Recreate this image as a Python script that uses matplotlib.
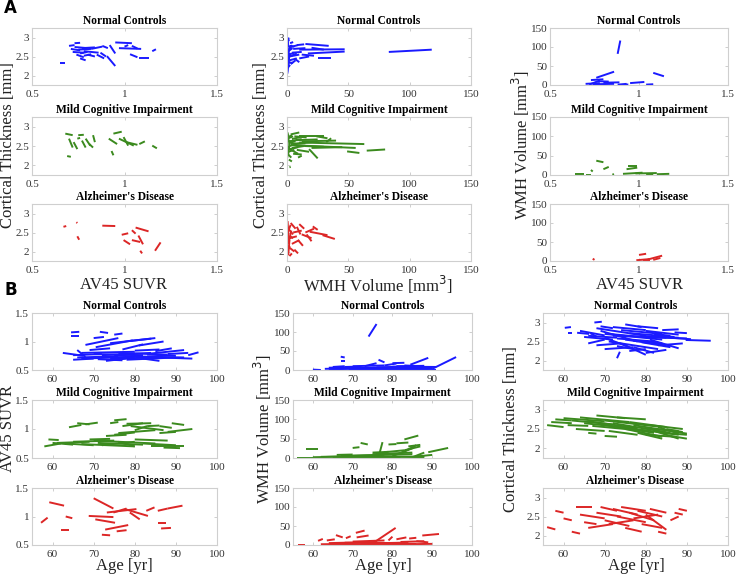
import matplotlib
matplotlib.use("Agg")
import matplotlib.pyplot as plt

# ---------------- data: each segment = (x_start, x_end, y_start, y_end) ----------------
groups = ["Normal Controls", "Mild Cognitive Impairment", "Alzheimer's Disease"]
colors = ["#1a1aff", "#3b8a1e", "#dc2626"]

# Panel A, column 1: cortical thickness vs AV45 SUVR
A_ct_suvr_nc = [
    (0.65, 0.68, 2.32, 2.32), (0.70, 0.73, 2.78, 2.80), (0.71, 0.76, 2.70, 2.66), (0.72, 0.78, 2.62, 2.60),
    (0.73, 0.80, 2.75, 2.72), (0.74, 0.78, 2.55, 2.48), (0.75, 0.82, 2.68, 2.70), (0.76, 0.80, 2.58, 2.62),
    (0.76, 0.79, 2.45, 2.40), (0.77, 0.84, 2.72, 2.74), (0.78, 0.86, 2.64, 2.60), (0.80, 0.84, 2.55, 2.50),
    (0.82, 0.88, 2.70, 2.76), (0.85, 0.89, 2.55, 2.45), (0.87, 0.90, 2.60, 2.50), (0.88, 0.91, 2.78, 2.72),
    (0.92, 0.95, 2.80, 2.58), (0.905, 0.95, 2.51, 2.25), (0.95, 1.04, 2.87, 2.85), (0.97, 1.09, 2.72, 2.70),
    (1.04, 1.07, 2.78, 2.71), (1.03, 1.07, 2.56, 2.48), (1.08, 1.13, 2.46, 2.46), (1.15, 1.17, 2.64, 2.69),
    (0.73, 0.76, 2.85, 2.86), (0.78, 0.82, 2.52, 2.56), (1.00, 1.02, 2.76, 2.80),
]
A_ct_suvr_mci = [
    (0.69, 0.71, 2.24, 2.22), (0.68, 0.72, 2.82, 2.78), (0.70, 0.72, 2.69, 2.46), (0.725, 0.745, 2.60, 2.42),
    (0.75, 0.78, 2.78, 2.79), (0.77, 0.79, 2.64, 2.46), (0.79, 0.815, 2.69, 2.51), (0.81, 0.83, 2.55, 2.46),
    (0.83, 0.84, 2.78, 2.60), (0.915, 0.96, 2.69, 2.55), (0.94, 0.985, 2.82, 2.87), (0.93, 0.94, 2.37, 2.26),
    (0.97, 1.05, 2.69, 2.51), (0.995, 1.02, 2.73, 2.51), (1.01, 1.07, 2.60, 2.53), (1.08, 1.11, 2.55, 2.62),
    (1.15, 1.175, 2.51, 2.44), (0.745, 0.76, 2.69, 2.71),
]
A_ct_suvr_ad = [
    (0.67, 0.685, 2.65, 2.67), (0.74, 0.745, 2.77, 2.75), (0.745, 0.755, 2.40, 2.31), (0.88, 0.95, 2.68, 2.67),
    (0.985, 1.02, 2.44, 2.48), (0.995, 1.03, 2.30, 2.19), (1.04, 1.06, 2.56, 2.47), (1.06, 1.13, 2.63, 2.53),
    (1.04, 1.085, 2.30, 2.25), (1.075, 1.10, 2.42, 2.19), (1.085, 1.095, 2.02, 1.95), (1.165, 1.195, 2.02, 2.24),
]

# Panel A, column 2: cortical thickness vs WMH volume
A_ct_wmh_nc = [
    (0.5, 1.0, 2.95, 2.75), (0.3, 1.2, 2.05, 2.35), (0.8, 1.5, 2.20, 2.50), (1, 3, 2.80, 2.70),
    (1.5, 6, 2.55, 2.60), (2, 8, 2.40, 2.45), (0.5, 4, 2.65, 2.80), (2, 10, 2.50, 2.55),
    (3, 9, 2.75, 2.80), (1, 5, 2.35, 2.33), (4, 12, 2.60, 2.62), (5, 15, 2.70, 2.72),
    (6, 10, 2.45, 2.35), (8, 14, 2.80, 2.82), (10, 47, 2.68, 2.69), (15, 34, 2.83, 2.78),
    (17, 47, 2.58, 2.63), (20, 30, 2.73, 2.68), (25, 36, 2.47, 2.47), (10, 18, 2.45, 2.50),
    (3, 7, 2.30, 2.40), (83, 118, 2.62, 2.68), (1, 1.5, 3.00, 2.90), (0.2, 0.6, 2.10, 2.60),
    (2.5, 5, 2.85, 2.88), (12, 22, 2.55, 2.52), (0.5, 2, 2.50, 2.70),
    (0.2, 0.8, 2.60, 2.90), (1.2, 2.0, 2.30, 2.60), (0.4, 3.0, 2.45, 2.55), (1.5, 4.5, 2.65, 2.72),
    (2.2, 6.0, 2.78, 2.76), (0.6, 2.5, 2.20, 2.28), (3.5, 8.0, 2.52, 2.58), (0.3, 1.0, 2.75, 2.85),
]
A_ct_wmh_mci = [
    (0.5, 1.5, 2.85, 2.60), (0.3, 1, 2.20, 2.50), (1, 5, 2.70, 2.75), (2, 8, 2.50, 2.55),
    (1, 6, 2.35, 2.40), (3, 10, 2.80, 2.85), (2, 12, 2.62, 2.68), (4, 14, 2.45, 2.50),
    (5, 12, 2.30, 2.28), (6, 16, 2.75, 2.72), (3, 20, 2.55, 2.60), (8, 18, 2.40, 2.35),
    (10, 30, 2.77, 2.77), (10, 63, 2.59, 2.55), (5, 56, 2.52, 2.45), (20, 45, 2.45, 2.47),
    (24, 33, 2.75, 2.70), (32, 36, 2.60, 2.70), (18, 25, 2.42, 2.18), (49, 59, 2.36, 2.32),
    (65, 80, 2.38, 2.41), (2, 3, 1.95, 1.96), (7, 25, 2.65, 2.67), (1.5, 4, 2.15, 2.10),
    (12, 40, 2.62, 2.64), (0.5, 9, 2.45, 2.30), (14, 30, 2.50, 2.48), (9, 12, 2.20, 2.25),
    (0.2, 1.0, 2.40, 2.80), (0.8, 2.5, 2.25, 2.65), (1.5, 7.0, 2.58, 2.62), (0.4, 4.0, 2.72, 2.78),
    (2.5, 9.0, 2.42, 2.47), (1.0, 3.5, 2.28, 2.20), (4.0, 11.0, 2.68, 2.73), (6.0, 15.0, 2.55, 2.57),
]
A_ct_wmh_ad = [
    (0.5, 1.5, 2.80, 2.20), (1, 2, 1.90, 2.30), (0.5, 3, 2.50, 2.70), (1, 5, 2.60, 2.45),
    (2, 6, 2.10, 2.00), (2, 8, 2.35, 2.40), (3, 7, 2.75, 2.60), (4, 10, 2.20, 2.30),
    (5, 12, 2.50, 2.55), (6, 9, 2.05, 1.95), (8, 11, 2.65, 2.45), (9, 13, 2.30, 2.15),
    (12, 20, 2.45, 2.35), (15, 22, 2.50, 2.60), (18.5, 33, 2.52, 2.43), (21, 25, 2.66, 2.57),
    (29, 39, 2.43, 2.33), (16, 20, 2.45, 2.27), (10, 14, 2.72, 2.60), (2, 4, 1.88, 1.95),
    (0.3, 1.2, 2.35, 2.65), (1.5, 3.5, 2.25, 2.55), (2.5, 5.0, 2.40, 2.35), (0.8, 2.2, 2.05, 2.15),
]

# Panel A, column 3: WMH volume vs AV45 SUVR
A_wmh_suvr_nc = [
    (0.70, 0.78, 3, 5), (0.72, 0.78, 1, 12), (0.74, 0.86, 2, 3), (0.76, 0.86, 19, 35),
    (0.77, 0.83, 10, 9), (0.80, 0.89, 6, 7), (0.88, 0.895, 82, 117), (0.88, 0.93, 1, 3),
    (0.92, 0.94, 2, 1), (0.95, 1.03, 5, 8), (1.04, 1.08, 1, 2), (1.08, 1.14, 32, 23),
    (0.73, 0.80, 13, 15),
]
A_wmh_suvr_mci = [
    (0.64, 0.69, 2, 2), (0.70, 0.73, 1, 1), (0.73, 0.74, 13, 9), (0.76, 0.80, 37, 33),
    (0.80, 0.83, 15, 21), (0.85, 0.86, 1, 2), (0.91, 1.02, 3, 6), (0.93, 0.99, 15, 19),
    (0.94, 0.99, 24, 24), (0.98, 1.10, 4, 5), (1.10, 1.17, 2, 3), (1.04, 1.08, 1, 2),
]
A_wmh_suvr_ad = [
    (0.74, 0.75, 6, 3), (1.00, 1.04, 16, 19), (0.985, 1.06, 2, 5), (1.05, 1.13, 4, 14),
    (1.08, 1.12, 3, 8), (1.02, 1.06, 1, 1),
]

# Panel B, column 1: AV45 SUVR vs age
B_suvr_age_nc = [
    (64.5, 66.5, 1.16, 1.17), (71.5, 73.5, 1.17, 1.15), (64.5, 66.5, 1.09, 1.09), (75, 77, 1.12, 1.14),
    (70, 72.5, 1.06, 1.08), (68, 76, 0.94, 1.06), (70.5, 79.5, 0.90, 1.02), (74, 85, 0.97, 1.06),
    (79, 84, 1.01, 1.05), (81, 87, 0.93, 1.00), (77, 82, 0.86, 0.95), (84, 92, 0.79, 0.85),
    (93, 95.5, 0.76, 0.81), (62.5, 67.5, 0.80, 0.75), (66, 76, 0.72, 0.74), (67, 80, 0.70, 0.73),
    (70, 82, 0.78, 0.76), (74, 86, 0.70, 0.72), (79, 92, 0.74, 0.72), (82, 86, 0.70, 0.66),
    (66, 68, 0.85, 0.73), (67, 80, 0.80, 0.82), (72, 84, 0.76, 0.80), (76, 88, 0.80, 0.77),
    (86, 94, 0.72, 0.70), (65, 70, 0.68, 0.70), (85, 89, 0.83, 0.88), (69, 74, 0.85, 0.88),
    (78, 90, 0.68, 0.72), (88, 93, 0.78, 0.80), (73, 78, 0.66, 0.70), (80, 86, 0.84, 0.86),
    (65, 72, 0.76, 0.78), (71, 77, 0.69, 0.67), (75, 81, 0.75, 0.74), (83, 90, 0.77, 0.75),
]
B_suvr_age_mci = [
    (58, 62, 0.70, 0.75), (59, 61.5, 0.82, 0.81), (60, 65, 0.76, 0.73), (64, 67, 1.03, 1.07),
    (66, 69, 1.10, 1.08), (68, 71, 1.08, 1.11), (63, 70, 0.75, 0.72), (65, 75, 0.78, 0.80),
    (67, 80, 0.74, 0.70), (70, 85, 0.80, 0.75), (72, 80, 0.72, 0.78), (74, 76, 1.10, 1.12),
    (75, 78, 1.15, 1.17), (77, 82, 1.05, 1.10), (78, 84, 1.09, 1.10), (80, 83, 0.98, 1.05),
    (79, 87, 1.05, 0.98), (76, 85, 0.93, 0.98), (73, 78, 0.88, 0.90), (82, 90, 0.75, 0.72),
    (84, 92, 0.70, 0.70), (86, 90, 0.93, 0.95), (88, 94, 0.95, 1.00), (89, 92, 1.10, 1.07),
    (80, 88, 0.82, 0.80), (69, 74, 0.82, 0.83), (61, 69, 0.76, 0.78), (71, 82, 0.76, 0.73),
    (86, 89, 1.05, 1.02), (87, 91, 0.68, 0.67), (76, 80, 0.78, 0.70), (83, 86, 1.05, 1.06),
    (75, 80, 0.90, 0.94),
]
B_suvr_age_ad = [
    (57.2, 58.8, 0.89, 0.98), (59.2, 62.8, 1.25, 1.19), (63.2, 64.8, 1.00, 0.97), (62.0, 64.0, 0.76, 0.76),
    (70.0, 74.8, 1.32, 1.14), (68.8, 74.8, 1.01, 0.99), (70.4, 75.2, 0.95, 0.89), (72.0, 74.0, 0.68, 0.67),
    (72.8, 78.4, 0.77, 0.85), (75.6, 78.0, 0.74, 0.76), (73.2, 80.4, 1.07, 1.13), (74.8, 78.0, 1.07, 1.14),
    (77.6, 83.2, 1.13, 1.01), (78.8, 81.2, 1.07, 0.95), (82.8, 84.8, 1.10, 1.16), (85.6, 88.0, 1.10, 1.14),
    (88.0, 91.6, 1.14, 1.19), (85.6, 87.6, 0.89, 0.89), (86.4, 88.8, 0.79, 0.80),
]

# Panel B, column 2: WMH volume vs age
B_wmh_age_nc = [
    (60, 62, 1, 0), (67, 68, 35, 33), (67, 68, 23, 23), (74, 76, 88, 121),
    (76.5, 78, 27, 20), (73, 76, 10, 18), (78, 81, 12, 17), (80, 83, 18, 19),
    (84.5, 89, 14, 32), (90, 96, 3, 34), (63, 70, 3, 5), (64, 75, 2, 4),
    (66, 80, 5, 6), (68, 72, 8, 9), (70, 85, 3, 2), (72, 88, 4, 1),
    (75, 90, 6, 7), (78, 86, 2, 1), (80, 91, 9, 8), (82, 89, 4, 2),
    (86, 91, 1, 1), (65, 68, 8, 10), (70, 78, 10, 12), (76, 84, 7, 9),
    (83, 87, 12, 10), (69, 73, 1, 4), (85, 90, 6, 5),
    (64, 70, 6, 7), (71, 80, 1, 2), (77, 83, 5, 4), (81, 88, 10, 11),
]
B_wmh_age_mci = [
    (56, 62, 1, 1), (58.2, 61.3, 22, 22), (60, 70, 2, 4), (62, 75, 3, 6),
    (65, 80, 1, 3), (67, 78, 5, 8), (70, 71.7, 26, 28), (72, 73.8, 39, 35),
    (70, 85, 6, 10), (73, 88, 2, 4), (75, 85, 10, 14), (76.7, 77.5, 10, 41),
    (78, 83, 15, 20), (79, 81, 35, 36), (80, 85, 5, 25), (82, 86, 12, 33),
    (83, 86.5, 48, 58), (83, 87, 20, 30), (81, 84, 38, 40), (85, 88, 2, 14),
    (86, 90, 4, 8), (89, 94, 15, 26), (68, 82, 0, 1), (66, 70, 8, 9),
    (75, 79, 14, 16), (78, 88, 4, 2), (84, 87, 30, 34),
]
B_wmh_age_ad = [
    (56.3, 58, 1, 1), (61.3, 62.5, 11, 16), (63.5, 65.5, 12, 15), (65.8, 67.5, 26, 20),
    (68.3, 69.5, 18, 23), (70.8, 73, 32, 38), (71, 74, 20, 25), (75.4, 80.8, 7, 45),
    (79, 80, 12, 22), (81, 83.5, 15, 20), (84.2, 86, 17, 19), (87.5, 91.7, 25, 29),
    (86, 89, 10, 7), (62, 70, 2, 3), (64, 76, 5, 8), (66, 80, 3, 1),
    (68, 84, 6, 5), (70, 78, 9, 12), (72, 86, 2, 3), (74, 82, 4, 6),
    (77, 90, 1, 3), (82, 88, 8, 10),
]

# Panel B, column 3: cortical thickness vs age
B_ct_age_nc = [
    (60.3, 61.8, 2.86, 2.88), (61, 62, 2.73, 2.73), (67.5, 69.3, 3.00, 3.02), (63.3, 66.2, 2.73, 2.70),
    (64, 70, 2.78, 2.66), (65, 72, 2.62, 2.55), (66, 70, 2.45, 2.55), (66.5, 68, 2.72, 2.63),
    (68, 80, 2.85, 2.65), (69, 78, 2.78, 2.50), (70, 84, 2.70, 2.55), (70, 76, 2.60, 2.35),
    (71, 83, 2.50, 2.30), (72, 80, 2.88, 2.80), (73, 73.7, 2.06, 2.23), (72, 88, 2.65, 2.60),
    (74, 80, 2.45, 2.15), (74, 84, 2.80, 2.70), (75, 85, 2.55, 2.40), (76, 87, 2.72, 2.62),
    (77, 82, 2.35, 2.20), (78, 90, 2.62, 2.58), (78, 83, 2.90, 2.85), (79, 86, 2.48, 2.35),
    (80, 88, 2.78, 2.68), (81, 88, 2.55, 2.32), (82, 86, 2.70, 2.65), (83, 89, 2.40, 2.45),
    (84, 88, 2.80, 2.82), (86, 91, 2.60, 2.56), (89.7, 95.8, 2.54, 2.52), (87, 90, 2.74, 2.72),
    (68, 74, 2.40, 2.45), (70, 77, 2.30, 2.35), (73, 82, 2.58, 2.50), (76, 80, 2.25, 2.30),
    (80, 85, 2.20, 2.28), (69, 72, 2.90, 2.85), (66, 73, 2.65, 2.60), (75, 79, 2.95, 2.88),
    (71, 79, 2.70, 2.62), (77, 84, 2.52, 2.45), (73, 78, 2.38, 2.28), (79, 85, 2.65, 2.60),
]
B_ct_age_mci = [
    (56, 60, 2.60, 2.55), (57, 62, 2.68, 2.65), (58, 62, 2.75, 2.72), (60, 70, 2.78, 2.70),
    (61, 66, 2.60, 2.58), (62, 72, 2.72, 2.62), (63, 70, 2.50, 2.45), (64, 76, 2.80, 2.68),
    (65, 74, 2.65, 2.55), (66, 78, 2.70, 2.52), (67, 80, 2.58, 2.45), (68, 75, 2.85, 2.78),
    (69, 82, 2.62, 2.40), (70, 84, 2.72, 2.55), (71, 78, 2.45, 2.35), (72, 86, 2.65, 2.40),
    (73, 80, 2.80, 2.75), (74, 88, 2.55, 2.35), (75, 84, 2.50, 2.30), (76, 85, 2.68, 2.55),
    (77, 90, 2.60, 2.38), (78, 84, 2.40, 2.25), (79, 88, 2.52, 2.45), (80, 87, 2.35, 2.30),
    (81, 89, 2.60, 2.50), (82, 88, 2.45, 2.25), (83, 88, 2.55, 2.38), (84, 90, 2.40, 2.35),
    (85, 89, 2.50, 2.42), (86, 90, 2.32, 2.25), (70, 73, 2.32, 2.30), (66, 68, 2.40, 2.38),
]
B_ct_age_ad = [
    (56, 58, 2.22, 2.16), (58, 60, 2.65, 2.60), (62, 64, 2.10, 2.05), (63, 67, 2.75, 2.75),
    (64, 70, 2.55, 2.45), (65, 68, 2.35, 2.30), (66, 72, 2.20, 2.30), (68, 74, 2.60, 2.50),
    (69, 73, 2.75, 2.65), (70, 76, 2.40, 2.25), (71, 77, 2.30, 2.40), (72, 78, 2.70, 2.55),
    (73, 80, 2.50, 2.35), (74, 80, 2.75, 2.65), (75, 79, 2.20, 2.10), (76, 82, 2.60, 2.40),
    (77, 83, 2.45, 2.55), (78, 84, 2.65, 2.50), (79, 84, 2.30, 2.20), (80, 85, 2.55, 2.15),
    (81, 85, 2.70, 2.60), (83, 85, 2.10, 2.05), (86, 88, 2.40, 2.50), (87, 89, 2.60, 2.55),
    (88, 90, 2.70, 2.65), (60, 62, 2.45, 2.40),
]

suvr_ticks = [0.5, 1, 1.5]
ct_ticks = [2, 2.5, 3]
wmh_ticks = [0, 50, 100, 150]
age_ticks = [60, 70, 80, 90, 100]

# ---------------- layout ----------------
W, H = 738, 576
fig = plt.figure(figsize=(W / 100, H / 100), dpi=100)
SERIF = "Liberation Serif"

def add_ax(l, t, r, b):
    return fig.add_axes([l / W, 1 - b / H, (r - l) / W, (b - t) / H])

colsA = [(32, 217), (287, 471), (550, 728)]
colsB = [(32, 217), (293, 472), (543, 728)]
rowsA = [(28, 85), (117, 175), (204, 261)]
rowsB = [(313, 370), (400, 458), (488, 545)]

panelsA = [
    ([A_ct_suvr_nc, A_ct_suvr_mci, A_ct_suvr_ad], (0.5, 1.5), suvr_ticks, (1.75, 3.25), ct_ticks),
    ([A_ct_wmh_nc, A_ct_wmh_mci, A_ct_wmh_ad], (0, 150), wmh_ticks, (1.75, 3.25), ct_ticks),
    ([A_wmh_suvr_nc, A_wmh_suvr_mci, A_wmh_suvr_ad], (0.5, 1.5), suvr_ticks, (0, 150), wmh_ticks),
]
panelsB = [
    ([B_suvr_age_nc, B_suvr_age_mci, B_suvr_age_ad], (55, 100), age_ticks, (0.5, 1.5), suvr_ticks),
    ([B_wmh_age_nc, B_wmh_age_mci, B_wmh_age_ad], (55, 100), age_ticks, (0, 150), wmh_ticks),
    ([B_ct_age_nc, B_ct_age_mci, B_ct_age_ad], (55, 100), age_ticks, (1.75, 3.25), ct_ticks),
]

def fmt(v):
    return ("%g" % v)

def draw(ax, segs, color, xl, xt, yl, yt, title):
    for (x0, x1, y0, y1) in segs:
        ax.plot([x0, x1], [y0, y1], color=color, lw=1.4, solid_capstyle="butt")
    ax.set_xlim(*xl)
    ax.set_ylim(*yl)
    ax.set_xticks(xt)
    ax.set_yticks(yt)
    ax.set_xticklabels([fmt(v) for v in xt], fontfamily=SERIF, fontsize=8, color="#333333")
    ax.set_yticklabels([fmt(v) for v in yt], fontfamily=SERIF, fontsize=8, color="#333333")
    ax.tick_params(direction="in", length=2, width=0.5, color="#bbbbbb", top=True, right=True)
    ax.tick_params(axis="x", pad=3.5)
    ax.tick_params(axis="y", pad=2)
    for s in ax.spines.values():
        s.set_color("#cfcfcf")
        s.set_linewidth(0.8)
    ax.set_title(title, fontfamily=SERIF, fontweight="bold", fontsize=8.3, pad=3)

for ci, (seglists, xl, xt, yl, yt) in enumerate(panelsA):
    for ri in range(3):
        ax = add_ax(colsA[ci][0], rowsA[ri][0], colsA[ci][1], rowsA[ri][1])
        draw(ax, seglists[ri], colors[ri], xl, xt, yl, yt, groups[ri])

for ci, (seglists, xl, xt, yl, yt) in enumerate(panelsB):
    for ri in range(3):
        ax = add_ax(colsB[ci][0], rowsB[ri][0], colsB[ci][1], rowsB[ri][1])
        draw(ax, seglists[ri], colors[ri], xl, xt, yl, yt, groups[ri])

# axis labels
lab = dict(fontfamily=SERIF, fontsize=12, color="#222222", ha="center", va="center")
fig.text(8 / W, 1 - 145 / H, "Cortical Thickness [mm]", rotation=90, **lab)
fig.text(261 / W, 1 - 145 / H, "Cortical Thickness [mm]", rotation=90, **lab)
fig.text(521 / W, 1 - 145 / H, "WMH Volume [mm$^3$]", rotation=90, **lab)
fig.text(124 / W, 1 - 285 / H, "AV45 SUVR", **lab)
fig.text(378 / W, 1 - 285 / H, "WMH Volume [mm$^3$]", **lab)
fig.text(640 / W, 1 - 285 / H, "AV45 SUVR", **lab)

fig.text(8 / W, 1 - 429 / H, "AV45 SUVR", rotation=90, **lab)
fig.text(263 / W, 1 - 429 / H, "WMH Volume [mm$^3$]", rotation=90, **lab)
fig.text(511 / W, 1 - 429 / H, "Cortical Thickness [mm]", rotation=90, **lab)
fig.text(124 / W, 1 - 566 / H, "Age [yr]", **lab)
fig.text(383 / W, 1 - 566 / H, "Age [yr]", **lab)
fig.text(636 / W, 1 - 566 / H, "Age [yr]", **lab)

fig.text(4 / W, 1 - 8 / H, "A", fontfamily="DejaVu Sans", fontweight="bold", fontsize=12, va="center")
fig.text(4 / W, 1 - 290 / H, "B", fontfamily="DejaVu Sans", fontweight="bold", fontsize=12, va="center")

fig.savefig("out.png", dpi=100)
